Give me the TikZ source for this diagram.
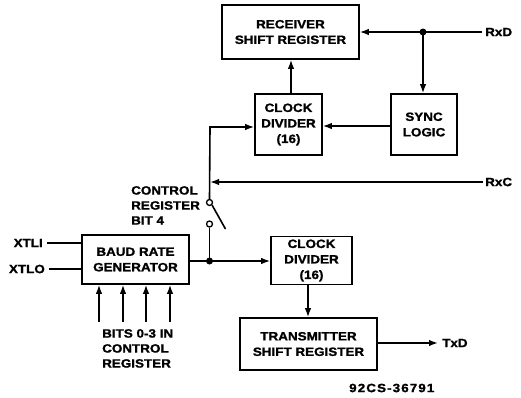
\documentclass[tikz,border=0pt]{standalone}
\usepackage{fontspec}
\setmainfont{Liberation Sans}[FakeStretch=1.12,FakeBold=1.3]
\usetikzlibrary{arrows.meta}
\tikzset{
  blk/.style={draw, line width=1.6pt, align=center, inner sep=0pt, font=\fontsize{12}{15.5}\selectfont\bfseries},
  lbl/.style={inner sep=0pt, font=\fontsize{12}{15}\selectfont\bfseries},
  wire/.style={line width=1.6pt},
  arr/.style={wire, -{Latex[length=9pt,width=6.5pt]}},
  dot/.style={circle, fill, inner sep=0pt, minimum size=7pt},
  pin/.style={circle, draw, fill=white, line width=1.3pt, inner sep=0pt, minimum size=6pt},
}
\begin{document}
\begin{tikzpicture}[x=1pt,y=-1pt]
\useasboundingbox (0,0) rectangle (521,397);
% blocks
\node[blk, minimum width=137pt, minimum height=54pt] (rsr) at (290.5,32) {RECEIVER\\SHIFT REGISTER};
\node[blk, minimum width=67pt, minimum height=61pt] (cdu) at (288.5,124.5) {CLOCK\\DIVIDER\\(16)};
\node[blk, minimum width=66pt, minimum height=61pt] (sync) at (424,124.5) {SYNC\\LOGIC};
\node[blk, minimum width=107pt, minimum height=49pt] (brg) at (135.5,259.5) {BAUD RATE\\GENERATOR};
\node[blk, minimum width=81pt, minimum height=48pt] (cdl) at (311.5,260.5) {CLOCK\\DIVIDER\\(16)};
\node[blk, minimum width=137pt, minimum height=52pt] (tsr) at (308.5,344) {TRANSMITTER\\SHIFT REGISTER};
% labels
\node[lbl, anchor=west] (rxd) at (485,32) {RxD};
\node[lbl, anchor=west] (rxc) at (485,182) {RxC};
\node[lbl, anchor=west] (txd) at (442,343) {TxD};
\node[lbl, anchor=east] (xtli) at (43,243) {XTLI};
\node[lbl, anchor=east] (xtlo) at (45,269) {XTLO};
\node[lbl, anchor=north west, align=left] (crb) at (131,186) {CONTROL\\REGISTER\\BIT 4};
\node[lbl, anchor=north west, align=left] (bits) at (102,329) {BITS 0-3 IN\\CONTROL\\REGISTER};
\node[lbl, anchor=west] (fig) at (349,388) {\addfontfeature{LetterSpace=9}92CS-36791};
% coordinates
\coordinate (rxdend) at (482,32);
\coordinate (jrx) at (423,32);
\coordinate (rxcend) at (483,182);
\coordinate (vtop) at (210,127);
\coordinate (vrxc) at (210,182);
\coordinate (lever) at (225.5,229);
\coordinate (jb) at (209.5,261);
\coordinate (xtliend) at (47,243);
\coordinate (xtloend) at (49,269);
\coordinate (txdend) at (438,343);
\coordinate (cux) at (291,0);
\node[pin] (piv) at (209.5,202.5) {};
\node[pin] (cont) at (209.5,224) {};
% receive path
\draw[wire] (rxdend) -- (jrx);
\draw[arr] (jrx) -- (rsr.east |- jrx);
\draw[arr] (jrx) -- (sync.north -| jrx);
\draw[arr] (cdu.north -| cux) -- (rsr.south -| cux);
\draw[arr] (sync.west |- 0,126) -- (cdu.east |- 0,126);
\draw[arr] (piv.north) -- (vtop) -- (cdu.west |- vtop);
\draw[arr] (rxcend) -- (vrxc);
% switch
\draw[wire] (piv.south east) -- (lever);
\draw[wire] (cont.south) -- (jb);
% transmit path
\draw[wire] (brg.east |- jb) -- (jb);
\draw[arr] (jb) -- (cdl.west |- jb);
\node[dot] at (jb) {};
\node[dot] at (jrx) {};
\draw[arr] (cdl.south -| 308,0) -- (tsr.north -| 308,0);
\draw[arr] (tsr.east |- txdend) -- (txdend);
% inputs
\draw[wire] (xtliend) -- (brg.west |- xtliend);
\draw[wire] (xtloend) -- (brg.west |- xtloend);
\foreach \x/\n in {99/a,123/b,146/c,170/d} {
  \coordinate (b\n) at (\x,322);
  \draw[arr] (b\n) -- (brg.south -| b\n);
}
\end{tikzpicture}
\end{document}
